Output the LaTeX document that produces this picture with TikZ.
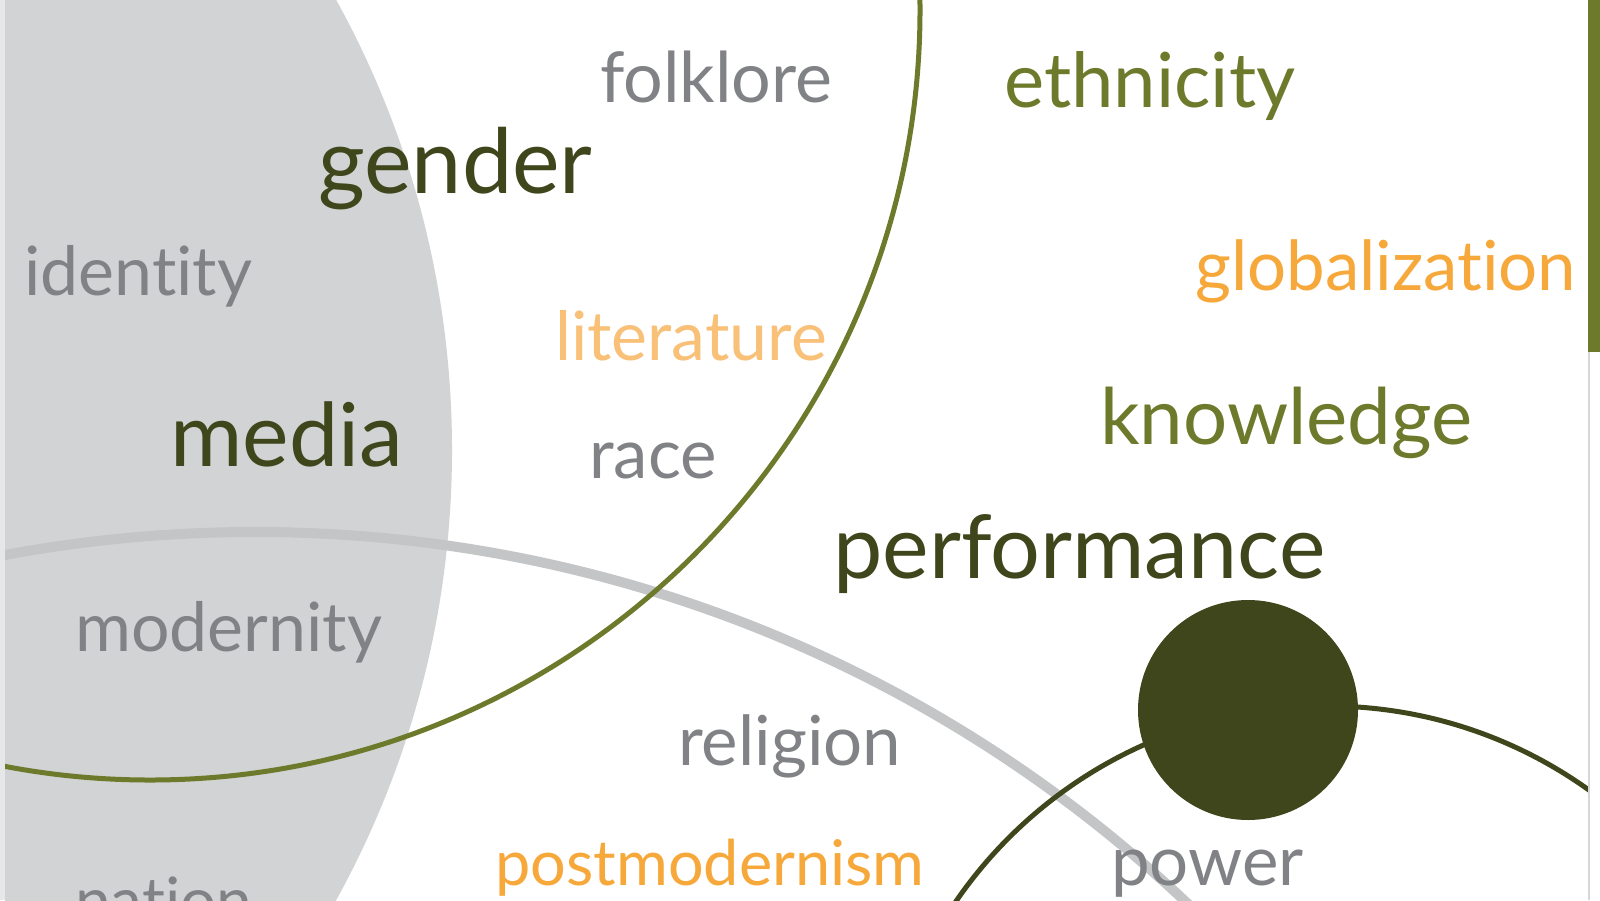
\documentclass[tikz,border=0pt]{standalone}
\usepackage{fontspec}
\setmainfont[Ligatures={NoCommon,NoContextual,NoRequired}]{Lato}
\definecolor{darkol}{HTML}{40461C}
\definecolor{olivec}{HTML}{6E7A2B}
\definecolor{grtext}{HTML}{808285}
\definecolor{orng}{HTML}{F7A83B}
\definecolor{lorng}{HTML}{F9C078}
\definecolor{diskgray}{HTML}{D1D3D4}
\definecolor{arcgray}{HTML}{C3C5C7}
\definecolor{stripgray}{HTML}{E6E7E8}
\definecolor{edgegray}{HTML}{D6D7D8}
\tikzset{
  word/.style={font=\fontsize{#1bp}{#1bp}\selectfont, anchor=base west, inner sep=0pt},
}
\begin{document}
\begin{tikzpicture}[x=1bp,y=-1bp]
\useasboundingbox (0,0) rectangle (1600,900);
\fill[white] (0,0) rectangle (1600,900);
\begin{scope}
  \clip (5,0) rectangle (1588,900);
  \fill[diskgray] (-479,450) circle[radius=931bp];
  \draw[arcgray, line width=10bp] (255,1888) circle[radius=1356bp];
  \draw[olivec, line width=5bp] (150,10) circle[radius=770bp];
  \draw[darkol, line width=5bp] (1327,1156) circle[radius=450bp];
  \fill[darkol] (1248,710) circle[radius=110bp];
\end{scope}
\fill[stripgray] (0,0) rectangle (5,900);
\fill[olivec] (1588,0) rectangle (1600,352);
\draw[edgegray, line width=1.5bp] (1589,352) -- (1589,900);
% words
\node[word=70, text=grtext] (folklore) at (600,102) {folklore};
\node[word=90, text=darkol] (gender) at (318,193) {gender};
\node[word=76, text=olivec] (ethnicity) at (1004,107) {ethnicity};
\node[word=69, text=orng] (globalization) at (1195,290) {globalization};
\node[word=78, text=olivec] (knowledge) at (1100,444) {knowledge};
\node[word=68, text=grtext] (identity) at (24,295) {identity};
\node[word=88, text=darkol] (media) at (170,466) {media};
\node[word=68, text=lorng] (literature) at (555,360) {literature};
\node[word=69, text=grtext] (race) at (589,478) {race};
\node[word=88, text=darkol] (performance) at (833,578) {performance};
\node[word=68, text=grtext] (modernity) at (75,651) {modernity};
\node[word=69, text=grtext] (religion) at (678,765) {religion};
\node[word=63, text=orng] (postmodernism) at (495,885) {postmodernism};
\node[word=69, text=grtext] (power) at (1111,885) {power};
\node[word=64, text=grtext] (nation) at (75,923) {nation};
\end{tikzpicture}
\end{document}
